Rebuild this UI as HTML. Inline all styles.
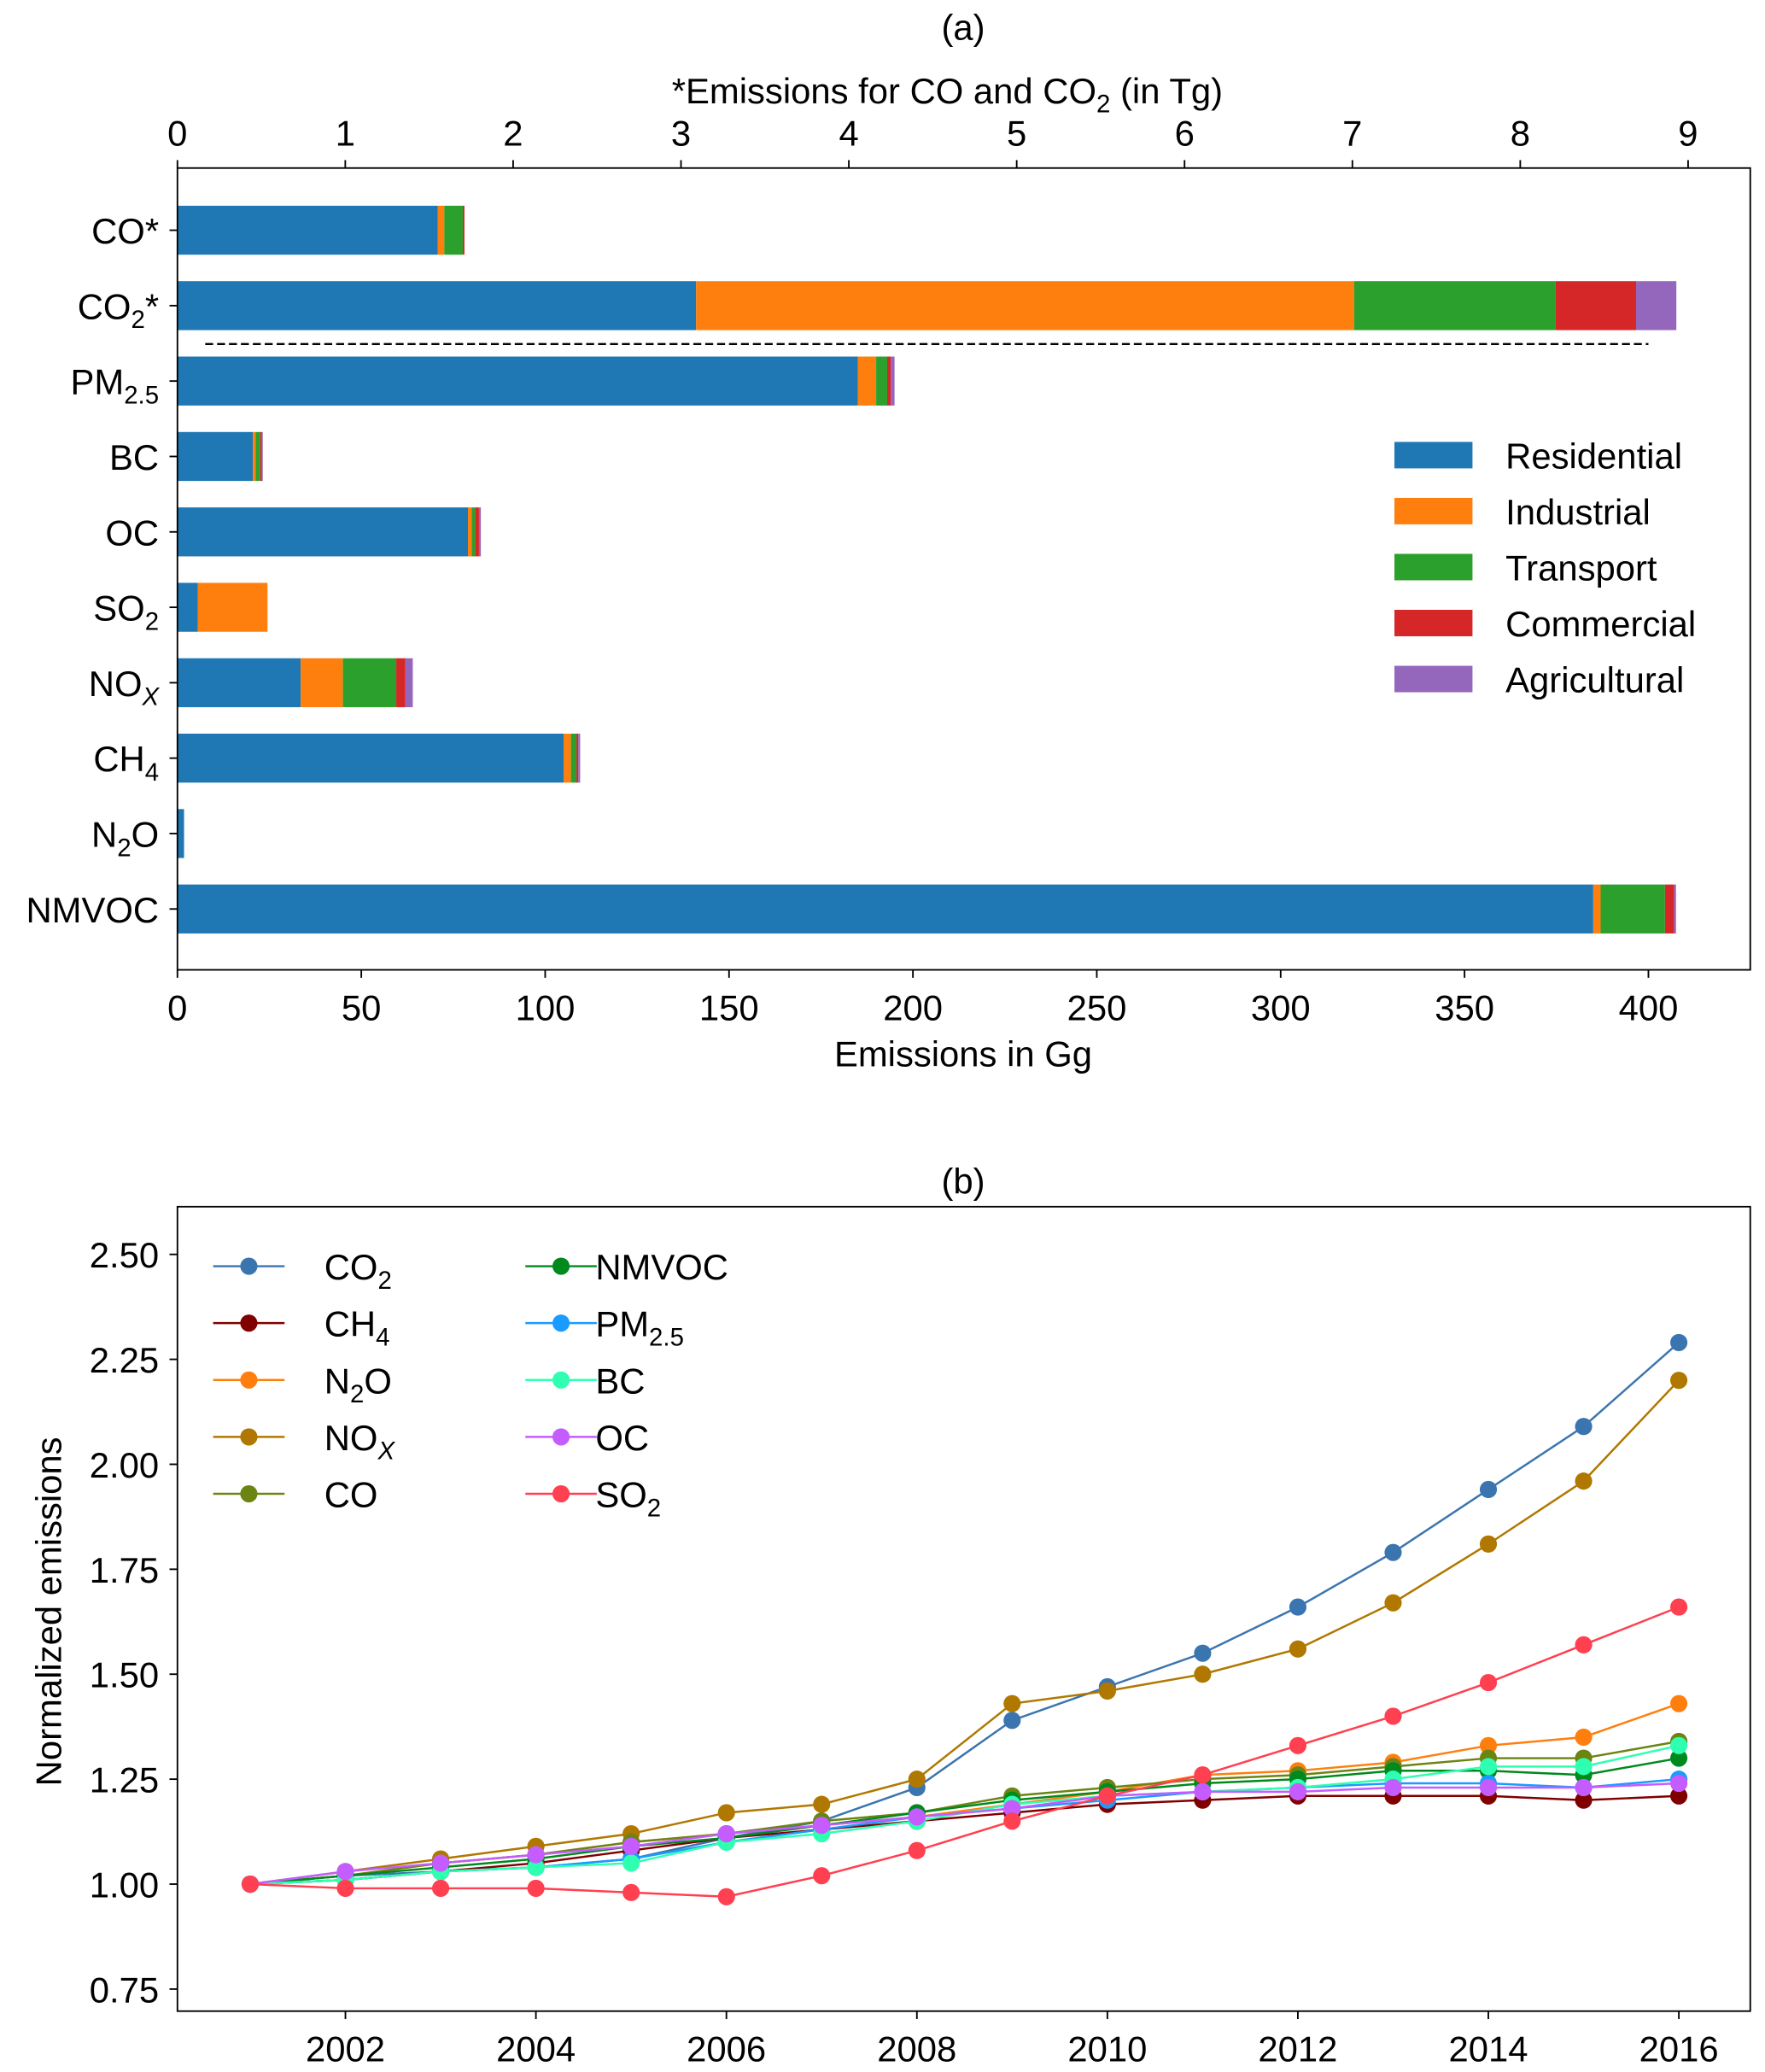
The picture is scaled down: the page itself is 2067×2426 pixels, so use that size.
<!DOCTYPE html>
<html><head><meta charset="utf-8"><style>
html,body{margin:0;padding:0;background:#fff}
svg{display:block}
text{font-family:"Liberation Sans","DejaVu Sans",sans-serif;fill:#000}
</style></head><body>
<svg id="chart" xmlns="http://www.w3.org/2000/svg" width="2067" height="2426" viewBox="0 0 1334 1566">
</svg>
<script>
// ---- Panel (a) data ----
const speciesA = ["CO*","CO2*","PM2.5","BC","OC","SO2","NOx","CH4","N2O","NMVOC"];
const sectorNames = ["Residential","Industrial","Transport","Commercial","Agricultural"];
const residential = [1.55,3.09,185,20.5,79,5.5,33.5,105,1.8,385];
const industrial  = [0.04,3.92,5,0.8,1,19,11.5,2,0,2];
const transport   = [0.11,1.20,3,1.2,1,0,14.5,1.5,0,17.5];
const commercial  = [0.01,0.48,1,0.5,1,0,2.5,0.5,0,2.5];
const agricultural= [0,0.24,1,0.2,0.5,0,2,0.5,0,0.5];
const bottomTicks = [0,50,100,150,200,250,300,350,400];
const topTicks = [0,1,2,3,4,5,6,7,8,9];
// ---- Panel (b) data ----
const years = [2001,2002,2003,2004,2005,2006,2007,2008,2009,2010,2011,2012,2013,2014,2015,2016];
const sCO2  = [1,1.02,1.03,1.04,1.06,1.11,1.15,1.23,1.39,1.47,1.55,1.66,1.79,1.94,2.09,2.29];
const sCH4  = [1,1.01,1.03,1.05,1.08,1.11,1.13,1.15,1.17,1.19,1.20,1.21,1.21,1.21,1.20,1.21];
const sN2O  = [1,1.02,1.05,1.07,1.10,1.12,1.14,1.16,1.19,1.22,1.26,1.27,1.29,1.33,1.35,1.43];
const sNOx  = [1,1.03,1.06,1.09,1.12,1.17,1.19,1.25,1.43,1.46,1.50,1.56,1.67,1.81,1.96,2.20];
const sCO   = [1,1.02,1.05,1.07,1.10,1.12,1.15,1.17,1.21,1.23,1.25,1.26,1.28,1.30,1.30,1.34];
const sNMVOC= [1,1.02,1.04,1.06,1.09,1.11,1.14,1.17,1.20,1.22,1.24,1.25,1.27,1.27,1.26,1.30];
const sPM   = [1,1.01,1.03,1.04,1.06,1.10,1.13,1.16,1.18,1.20,1.22,1.23,1.24,1.24,1.23,1.25];
const sBC   = [1,1.01,1.03,1.04,1.05,1.10,1.12,1.15,1.19,1.21,1.22,1.23,1.25,1.28,1.28,1.33];
const sOC   = [1,1.03,1.05,1.07,1.09,1.12,1.14,1.16,1.18,1.21,1.22,1.22,1.23,1.23,1.23,1.24];
const sSO2  = [1,0.99,0.99,0.99,0.98,0.97,1.02,1.08,1.15,1.21,1.26,1.33,1.40,1.48,1.57,1.66];
const yTicksB = [0.75,1.00,1.25,1.50,1.75,2.00,2.25,2.50];
const xTicksB = [2002,2004,2006,2008,2010,2012,2014,2016];

const NS="http://www.w3.org/2000/svg";
const svg=document.getElementById('chart');
const FS=27, SUB=19;
function el(tag,attrs,parent){const e=document.createElementNS(NS,tag);for(const k in attrs)e.setAttribute(k,attrs[k]);(parent||svg).appendChild(e);return e;}
function txt(x,y,s,size,anchor,parent,html){const t=el('text',{x:x,y:y,'font-size':size,'text-anchor':anchor||'middle'},parent);if(html)t.innerHTML=s;else t.textContent=s;return t;}
const sb=s=>"<tspan dy='7' font-size='"+SUB+"'>"+s+"</tspan>";
const sbi=s=>"<tspan dy='7' font-size='"+SUB+"' font-style='italic'>"+s+"</tspan>";
const up=s=>"<tspan dy='-7'>"+s+"</tspan>";

// ===== Panel (a) =====
const A={l:134,r:1323,t:127,b:733};
const xG=v=>A.l+v*(1246-134)/400;
const xT=v=>A.l+v*(1276-134)/9;
const rowY=i=>174+i*57.0;
const ga=el('g',{});


const sectorColors=["#1f77b4","#ff7f0e","#2ca02c","#d62728","#9467bd"];
const sectors=[residential,industrial,transport,commercial,agricultural];
speciesA.forEach((sp,i)=>{
  const sc=(i<2)?xT:xG;
  let acc=0;
  sectors.forEach((arr,k)=>{
    const v=arr[i]; if(v<=0)return;
    const r=el('rect',{x:sc(acc),y:rowY(i)-18.5,width:sc(acc+v)-sc(acc),height:37,fill:sectorColors[k]},ga);
    
    
    acc+=v;
  });
});
el('line',{x1:155,x2:1246,y1:260,y2:260,stroke:'#000','stroke-width':1.5,'stroke-dasharray':'6,3'},ga);
el('rect',{x:A.l,y:A.t,width:A.r-A.l,height:A.b-A.t,fill:'none',stroke:'#000','stroke-width':1.2},ga);
const ylabA=["CO*","CO"+sb("2")+up("*"),"PM"+sb("2.5"),"BC","OC","SO"+sb("2"),"NO"+sbi("X"),"CH"+sb("4"),"N"+sb("2")+up("O"),"NMVOC"];
speciesA.forEach((sp,i)=>{
  el('line',{x1:A.l-6,x2:A.l,y1:rowY(i),y2:rowY(i),stroke:'#000','stroke-width':1.2},ga);
  const t=txt(A.l-14,rowY(i)+10,ylabA[i],FS,'end',ga,true);
  
  
});
bottomTicks.forEach(v=>{
  el('line',{x1:xG(v),x2:xG(v),y1:A.b,y2:A.b+6,stroke:'#000','stroke-width':1.2},ga);
  txt(xG(v),A.b+38,v,FS,'middle',ga);
});
topTicks.forEach(v=>{
  el('line',{x1:xT(v),x2:xT(v),y1:A.t-6,y2:A.t,stroke:'#000','stroke-width':1.2},ga);
  txt(xT(v),A.t-17,v,FS,'middle',ga);
});
txt(728,806,'Emissions in Gg',FS,'middle',ga);
txt(716,78,"*Emissions for CO and CO"+sb("2")+up(" (in Tg)"),FS,'middle',ga,true);
txt(728,30,'(a)',FS,'middle',ga);
sectorNames.forEach((n,k)=>{
  const y=344+k*42.3;
  const g=el('g',{},ga);
  
  
  el('rect',{x:1054,y:y-10,width:59,height:20,fill:sectorColors[k]},g);
  txt(1138,y+10,n,FS,'start',g);
});

// ===== Panel (b) =====
const B={l:134,r:1323,t:912,b:1520};
const xY=y=>189+(y-2001)*72;
const yV=v=>1424-(v-1)*317.3;
const gb=el('g',{});


const series=[
 ["CO2",sCO2,"#3b75af","CO"+sb("2")],
 ["CH4",sCH4,"#800000","CH"+sb("4")],
 ["N2O",sN2O,"#ff7f0e","N"+sb("2")+up("O")],
 ["NOx",sNOx,"#b07800","NO"+sbi("X")],
 ["CO",sCO,"#6b8412","CO"],
 ["NMVOC",sNMVOC,"#008a1e","NMVOC"],
 ["PM2.5",sPM,"#1a9bff","PM"+sb("2.5")],
 ["BC",sBC,"#2effb0","BC"],
 ["OC",sOC,"#c45cff","OC"],
 ["SO2",sSO2,"#ff4050","SO"+sb("2")]
];
series.forEach(([name,vals,c])=>{
  const g=el('g',{},gb);
  
  
  el('polyline',{points:vals.map((v,i)=>xY(years[i])+','+yV(v)).join(' '),fill:'none',stroke:c,'stroke-width':1.6},g);
  vals.forEach((v,i)=>el('circle',{cx:xY(years[i]),cy:yV(v),r:6.5,fill:c},g));
});
el('rect',{x:B.l,y:B.t,width:B.r-B.l,height:B.b-B.t,fill:'none',stroke:'#000','stroke-width':1.2},gb);
yTicksB.forEach(v=>{
  el('line',{x1:B.l-6,x2:B.l,y1:yV(v),y2:yV(v),stroke:'#000','stroke-width':1.2},gb);
  txt(B.l-14,yV(v)+10,v.toFixed(2),FS,'end',gb);
});
xTicksB.forEach(v=>{
  el('line',{x1:xY(v),x2:xY(v),y1:B.b,y2:B.b+6,stroke:'#000','stroke-width':1.2},gb);
  txt(xY(v),B.b+38,v,FS,'middle',gb);
});
const yl=txt(0,0,'Normalized emissions',FS,'middle',gb);
yl.setAttribute('transform','translate(46,1218) rotate(-90)');

txt(728,902,'(b)',FS,'middle',gb);
series.forEach(([name,vals,c,lab],k)=>{
  const col=k<5?0:1, row=k%5;
  const mx=col?424:188, y=957+row*43;
  const g=el('g',{},gb);
  
  
  el('line',{x1:mx-27,x2:mx+27,y1:y,y2:y,stroke:c,'stroke-width':1.6},g);
  el('circle',{cx:mx,cy:y,r:6.5,fill:c},g);
  txt(col?450:245,y+10,lab,FS,'start',g,true);
});
</script>
</body></html>
